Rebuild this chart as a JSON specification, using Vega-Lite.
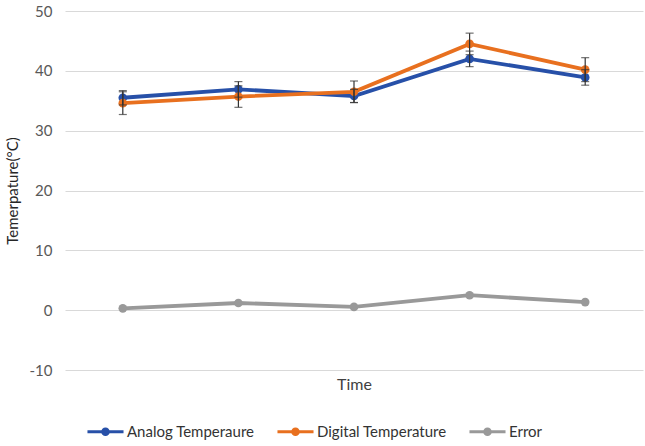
{
  "$schema": "https://vega.github.io/schema/vega-lite/v6.json",
  "width": 578,
  "height": 359,
  "autosize": "none",
  "padding": {"left": 65, "top": 11, "right": 2, "bottom": 76},
  "config": {"font": "Lato", "view": {"stroke": null}},
  "data": {
    "values": [
      {"t": 1, "series": "Analog Temperaure", "value": 35.5, "lo": 34.3, "hi": 36.7},
      {"t": 2, "series": "Analog Temperaure", "value": 36.9, "lo": 35.6, "hi": 38.2},
      {"t": 3, "series": "Analog Temperaure", "value": 35.8, "lo": 34.7, "hi": 36.9},
      {"t": 4, "series": "Analog Temperaure", "value": 42.0, "lo": 40.7, "hi": 43.3},
      {"t": 5, "series": "Analog Temperaure", "value": 38.9, "lo": 37.6, "hi": 40.2},
      {"t": 1, "series": "Digital Temperature", "value": 34.6, "lo": 32.7, "hi": 36.5},
      {"t": 2, "series": "Digital Temperature", "value": 35.7, "lo": 33.9, "hi": 37.5},
      {"t": 3, "series": "Digital Temperature", "value": 36.5, "lo": 34.7, "hi": 38.3},
      {"t": 4, "series": "Digital Temperature", "value": 44.5, "lo": 42.7, "hi": 46.3},
      {"t": 5, "series": "Digital Temperature", "value": 40.2, "lo": 38.2, "hi": 42.2},
      {"t": 1, "series": "Error", "value": 0.3, "lo": null, "hi": null},
      {"t": 2, "series": "Error", "value": 1.2, "lo": null, "hi": null},
      {"t": 3, "series": "Error", "value": 0.55, "lo": null, "hi": null},
      {"t": 4, "series": "Error", "value": 2.5, "lo": null, "hi": null},
      {"t": 5, "series": "Error", "value": 1.35, "lo": null, "hi": null}
    ]
  },
  "encoding": {
    "x": {
      "field": "t",
      "type": "ordinal",
      "scale": {"type": "point", "padding": 0.5},
      "axis": {
        "title": "Time",
        "labels": false,
        "ticks": false,
        "domain": false,
        "grid": false,
        "titleFontSize": 16,
        "titleColor": "#404040",
        "titleFontWeight": "normal",
        "titlePadding": 6
      }
    }
  },
  "layer": [
    {
      "mark": {"type": "line", "strokeWidth": 3.8},
      "encoding": {
        "y": {
          "field": "value",
          "type": "quantitative",
          "scale": {"domain": [-10, 50]},
          "axis": {
            "values": [-10, 0, 10, 20, 30, 40, 50],
            "labelExpr": "'' + datum.value",
            "title": "Temerpature(°C)",
            "gridColor": "#d9d9d9",
            "domain": false,
            "ticks": false,
            "labelColor": "#595959",
            "labelFontSize": 15,
            "labelPadding": 13,
            "titleFontSize": 15,
            "titleColor": "#262626",
            "titleFontWeight": "normal",
            "titleX": -45
          }
        },
        "color": {
          "field": "series",
          "type": "nominal",
          "scale": {
            "domain": ["Analog Temperaure", "Digital Temperature", "Error"],
            "range": ["#2750a8", "#e8701f", "#999999"]
          },
          "legend": {
            "orient": "none",
            "legendX": 22,
            "legendY": 402,
            "direction": "horizontal",
            "title": null,
            "labelFontSize": 15,
            "labelColor": "#333333",
            "symbolType": "M-1,-0.09H1V0.09H-1Z M0.24,0A0.24,0.24,0,1,1,-0.24,0A0.24,0.24,0,1,1,0.24,0Z",
            "symbolSize": 1300,
            "symbolStrokeWidth": 0,
            "columnPadding": 22,
            "labelOffset": 3
          }
        }
      }
    },
    {
      "mark": {"type": "point", "filled": true, "size": 75, "opacity": 1},
      "encoding": {
        "y": {"field": "value", "type": "quantitative"},
        "color": {"field": "series", "type": "nominal"}
      }
    },
    {
      "transform": [{"filter": "datum.lo != null"}],
      "mark": {"type": "rule", "color": "#333333", "strokeWidth": 1.2},
      "encoding": {
        "y": {"field": "lo", "type": "quantitative"},
        "y2": {"field": "hi"}
      }
    },
    {
      "transform": [{"filter": "datum.lo != null"}],
      "mark": {"type": "tick", "orient": "horizontal", "color": "#333333", "size": 8, "thickness": 1.2},
      "encoding": {"y": {"field": "lo", "type": "quantitative"}}
    },
    {
      "transform": [{"filter": "datum.lo != null"}],
      "mark": {"type": "tick", "orient": "horizontal", "color": "#333333", "size": 8, "thickness": 1.2},
      "encoding": {"y": {"field": "hi", "type": "quantitative"}}
    }
  ]
}
